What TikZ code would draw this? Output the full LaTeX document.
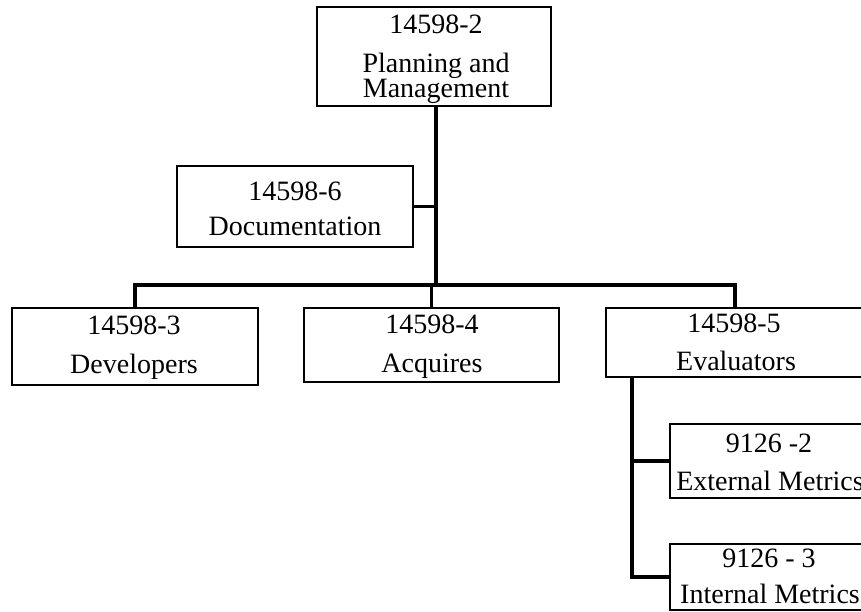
\documentclass[tikz,border=0pt]{standalone}
\usepackage{fontspec}
\setmainfont{Liberation Serif}
\begin{document}
\begin{tikzpicture}[x=1pt,y=-1pt,
  box/.style={draw,line width=2.5pt,inner sep=0pt,outer sep=0pt},
  lbl/.style={anchor=base,inner sep=0pt,font=\fontsize{28}{30}\selectfont},
  conn/.style={line width=3.2pt}]
\useasboundingbox (0,0) rectangle (861,612);
% boxes
\node[box,minimum width=234pt,minimum height=99pt] (top) at (434,56.5) {};
\node[box,minimum width=236pt,minimum height=81pt] (doc) at (295,206.5) {};
\node[box,minimum width=246pt,minimum height=77pt] (dev) at (135,346.5) {};
\node[box,minimum width=255pt,minimum height=74pt] (acq) at (431.5,345) {};
\node[box,minimum width=258pt,minimum height=69pt] (eval) at (735,342.5) {};
\node[box,minimum width=198pt,minimum height=74pt] (ext) at (769,461) {};
\node[box,minimum width=198pt,minimum height=66pt] (int) at (769,577) {};
% texts
\node[lbl] (t1) at (436,34) {14598-2};
\node[lbl] (t2) at (436,73) {Planning and};
\node[lbl] (t3) at (436,98) {Management};
\node[lbl] (d1) at (295,201) {14598-6};
\node[lbl] (d2) at (295,236) {Documentation};
\node[lbl] (v1) at (134,334) {14598-3};
\node[lbl] (v2) at (134,373) {Developers};
\node[lbl] (a1) at (432,333) {14598-4};
\node[lbl] (a2) at (432,372) {Acquires};
\node[lbl] (e1) at (734,332) {14598-5};
\node[lbl] (e2) at (736,370) {Evaluators};
\node[lbl] (x1) at (769,452) {9126 -2};
\node[lbl] (x2) at (770,490) {External Metrics};
\node[lbl] (i1) at (769,567) {9126 - 3};
\node[lbl] (i2) at (770,603) {Internal Metrics};
% connectors
\coordinate (spine) at (436,285);
\coordinate (ev) at (632,377);
\draw[conn] (top.south -| spine) -- (spine);
\draw[conn] (doc.east) -- (doc.east -| spine);
\draw[conn] (dev.north) |- (eval.north |- spine) -- (eval.north);
\draw[conn] (acq.north) -- (acq.north |- spine);
\draw[conn] (eval.south -| ev) |- (int.west);
\draw[conn] (ext.west -| ev) -- (ext.west);
\end{tikzpicture}
\end{document}
